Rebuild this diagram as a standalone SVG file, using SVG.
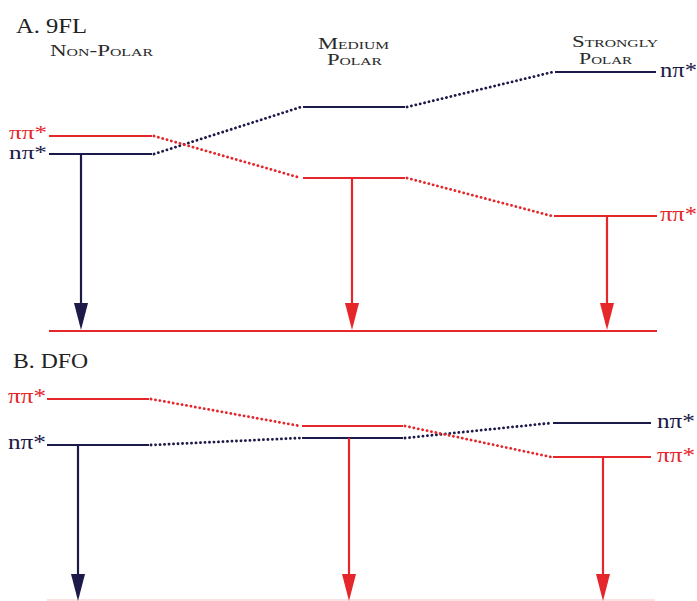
<svg xmlns="http://www.w3.org/2000/svg" width="697" height="601" viewBox="0 0 697 601">
<style>
  text { font-family: "Liberation Serif", "DejaVu Serif", serif; }
  .title { font-size: 20px; fill: #222; }
  .sc { font-size: 16px; fill: #2a2a2a; font-variant: small-caps; }
  .lbl { font-size: 21px; }
  .lbs { font-size: 19px; }
  .nav { fill: #1c1a48; }
  .red { fill: #e5262b; }
  .lvn { stroke: #1c1a48; stroke-width: 2.2; fill: none; }
  .lvr { stroke: #e5262b; stroke-width: 2.2; fill: none; }
  .dotn { stroke: #1c1a48; stroke-width: 2.8; stroke-linecap: round; stroke-dasharray: 0.1 4.4; fill: none; }
  .dotr { stroke: #e5262b; stroke-width: 2.8; stroke-linecap: round; stroke-dasharray: 0.1 4.4; fill: none; }
</style>
<defs>
  <marker id="ar" viewBox="0 0 14 27" refX="7" refY="0" markerWidth="14" markerHeight="27" markerUnits="userSpaceOnUse" orient="0">
    <path d="M0,0 L14,0 L7,27 Z" fill="#e5262b"/>
  </marker>
  <marker id="an" viewBox="0 0 14 27" refX="7" refY="0" markerWidth="14" markerHeight="27" markerUnits="userSpaceOnUse" orient="0">
    <path d="M0,0 L14,0 L7,27 Z" fill="#1c1a48"/>
  </marker>
</defs>

<!-- Headings -->
<g id="headings">
  <text class="title" x="16" y="33" textLength="71" lengthAdjust="spacingAndGlyphs">A. 9FL</text>
  <text class="sc" x="50" y="56" textLength="103" lengthAdjust="spacingAndGlyphs">Non-Polar</text>
  <text class="sc" x="318" y="49" textLength="71" lengthAdjust="spacingAndGlyphs">Medium</text>
  <text class="sc" x="327" y="65" textLength="55" lengthAdjust="spacingAndGlyphs">Polar</text>
  <text class="sc" x="572" y="47" textLength="86" lengthAdjust="spacingAndGlyphs">Strongly</text>
  <text class="sc" x="579" y="64" textLength="53" lengthAdjust="spacingAndGlyphs">Polar</text>
  <text class="title" x="13" y="368" textLength="75" lengthAdjust="spacingAndGlyphs">B. DFO</text>
</g>

<!-- Section A nodes -->
<g id="A-nonpolar-pipi">
  <line class="lvr" x1="49" y1="136" x2="152" y2="136"/>
  <text class="lbs red" x="9" y="139" textLength="38" lengthAdjust="spacingAndGlyphs">ππ*</text>
</g>
<g id="A-nonpolar-npi">
  <line class="lvn" x1="49" y1="154" x2="152" y2="154"/>
  <text class="lbs nav" x="9" y="159" textLength="38" lengthAdjust="spacingAndGlyphs">nπ*</text>
</g>
<g id="A-medium-npi">
  <line class="lvn" x1="303" y1="107" x2="405" y2="107"/>
</g>
<g id="A-medium-pipi">
  <line class="lvr" x1="303" y1="178" x2="405" y2="178"/>
</g>
<g id="A-strong-npi">
  <line class="lvn" x1="555" y1="72" x2="656" y2="72"/>
  <text class="lbl nav" x="660" y="77" textLength="37" lengthAdjust="spacingAndGlyphs">nπ*</text>
</g>
<g id="A-strong-pipi">
  <line class="lvr" x1="554" y1="216" x2="657" y2="216"/>
  <text class="lbl red" x="660" y="221" textLength="37" lengthAdjust="spacingAndGlyphs">ππ*</text>
</g>
<g id="A-ground">
  <line class="lvr" x1="49" y1="331" x2="657" y2="331"/>
</g>

<!-- Section B nodes -->
<g id="B-nonpolar-pipi">
  <line class="lvr" x1="47" y1="399" x2="149" y2="399"/>
  <text class="lbl red" x="8" y="403" textLength="38" lengthAdjust="spacingAndGlyphs">ππ*</text>
</g>
<g id="B-nonpolar-npi">
  <line class="lvn" x1="47" y1="445" x2="149" y2="445"/>
  <text class="lbl nav" x="8" y="449" textLength="38" lengthAdjust="spacingAndGlyphs">nπ*</text>
</g>
<g id="B-medium-pipi">
  <line class="lvr" x1="302" y1="426" x2="403" y2="426"/>
</g>
<g id="B-medium-npi">
  <line class="lvn" x1="302" y1="438" x2="403" y2="438"/>
</g>
<g id="B-strong-npi">
  <line class="lvn" x1="553" y1="423" x2="651" y2="423"/>
  <text class="lbl nav" x="657" y="428" textLength="38" lengthAdjust="spacingAndGlyphs">nπ*</text>
</g>
<g id="B-strong-pipi">
  <line class="lvr" x1="553" y1="457" x2="651" y2="457"/>
  <text class="lbl red" x="657" y="462" textLength="38" lengthAdjust="spacingAndGlyphs">ππ*</text>
</g>
<g id="B-ground">
  <line x1="47" y1="600" x2="655" y2="600" stroke="#fbe2e2" stroke-width="2"/>
</g>

<!-- Connectors -->
<g id="connectors">
  <!-- A dotted correlations -->
  <line class="dotn" x1="154" y1="154" x2="301" y2="107"/>
  <line class="dotn" x1="407" y1="107" x2="553" y2="72"/>
  <line class="dotr" x1="154" y1="136" x2="301" y2="178"/>
  <line class="dotr" x1="407" y1="178" x2="552" y2="216"/>
  <!-- A transitions -->
  <line class="lvn" x1="81" y1="154" x2="81" y2="303" marker-end="url(#an)"/>
  <line class="lvr" x1="352" y1="178" x2="352" y2="303" marker-end="url(#ar)"/>
  <line class="lvr" x1="607" y1="216" x2="607" y2="303" marker-end="url(#ar)"/>

  <!-- B dotted correlations -->
  <line class="dotr" x1="151" y1="399" x2="300" y2="426"/>
  <line class="dotn" x1="151" y1="445" x2="300" y2="438"/>
  <line class="dotn" x1="405" y1="438" x2="551" y2="423"/>
  <line class="dotr" x1="405" y1="426" x2="551" y2="457"/>
  <!-- B transitions -->
  <line class="lvn" x1="78" y1="445" x2="78" y2="574" marker-end="url(#an)"/>
  <line class="lvr" x1="349" y1="438" x2="349" y2="574" marker-end="url(#ar)"/>
  <line class="lvr" x1="603" y1="457" x2="603" y2="574" marker-end="url(#ar)"/>
</g>
</svg>
